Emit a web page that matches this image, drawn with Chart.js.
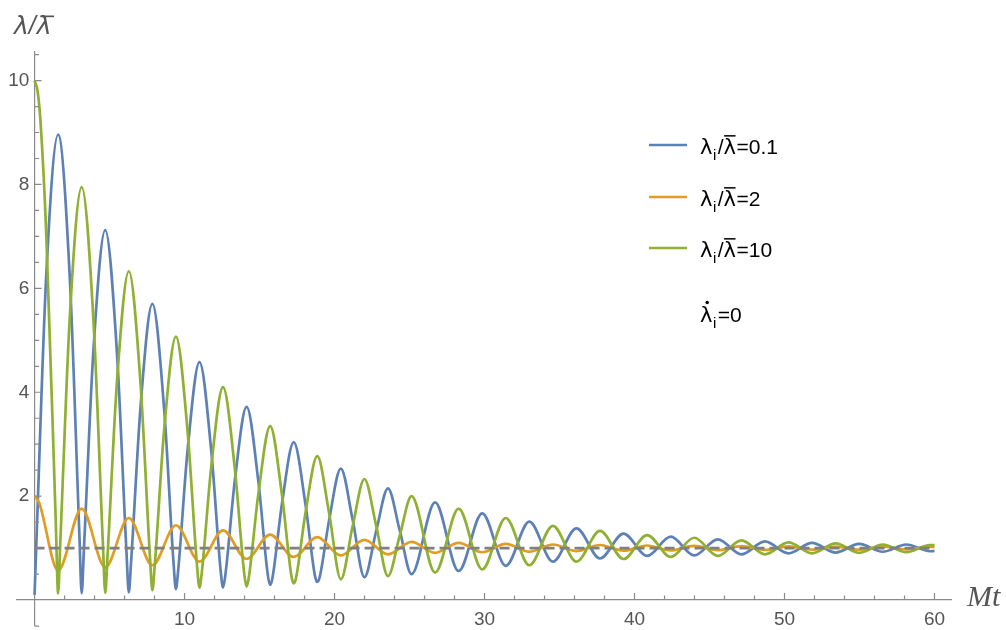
<!DOCTYPE html>
<html>
<head>
<meta charset="utf-8">
<script src="https://cdn.jsdelivr.net/npm/chart.js@4.4.1/dist/chart.umd.min.js"></script>
<style>
  html, body { margin: 0; padding: 0; background: #fff; }
  #chart { display: block; }
</style>
</head>
<body>
<canvas id="chart" width="1006" height="630"></canvas>
<script>
// values (Mt on x, lambda / lambda-bar on y)
const blueT = [0, 0.15, 0.785, 1.571, 2.356, 2.992, 3.142, 3.292, 3.927, 4.712, 5.498, 6.133, 6.283, 6.433, 7.069, 7.854,
  8.639, 9.275, 9.425, 9.575, 10.21, 10.996, 11.781, 12.416, 12.566, 12.716, 13.352, 14.137, 14.923, 15.558, 15.708,
  15.858, 16.493, 17.279, 18.064, 18.70, 18.850, 19.0, 19.635, 20.420, 21.206, 21.991, 22.777, 23.562, 24.347, 25.133,
  26.704, 28.274, 29.845, 31.416, 32.987, 34.558, 36.128, 37.699, 39.270, 40.841, 42.412, 43.982, 45.553, 47.124,
  48.695, 50.265, 51.836, 53.407, 54.978, 56.549, 58.119, 59.690, 60];
const blueV = [0.10, 1.34, 6.28, 8.96, 6.17, 1.23, 0.13, 0.98, 4.82, 7.12, 4.74, 0.90, 0.15, 0.72, 3.73, 5.70,
  3.68, 0.68, 0.21, 0.57, 2.91, 4.58, 2.87, 0.54, 0.24, 0.47, 2.30, 3.72, 2.28, 0.47, 0.29,
  0.42, 1.85, 3.04, 1.84, 0.46, 0.35, 0.43, 1.53, 2.53, 1.55, 0.44, 1.33, 2.15, 1.34, 0.50,
  1.88, 0.56, 1.67, 0.66, 1.51, 0.74, 1.38, 0.80, 1.28, 0.85, 1.22, 0.86, 1.17, 0.88,
  1.13, 0.90, 1.10, 0.915, 1.08, 0.93, 1.07, 0.94, 0.945];

const orangeT = [0, 0.3, 1.571, 3.142, 4.712, 6.283, 7.854, 9.425, 10.996, 12.566, 14.137, 15.708, 17.279, 18.850,
  20.420, 21.991, 23.562, 25.133, 26.704, 28.274, 29.845, 31.416, 32.987, 34.558, 36.128, 37.699, 39.270, 40.841,
  42.412, 43.982, 45.553, 47.124, 48.695, 50.265, 51.836, 53.407, 54.978, 56.549, 58.119, 59.690, 60];
const orangeV = [2.0, 1.88, 0.57, 1.76, 0.63, 1.58, 0.67, 1.44, 0.74, 1.34, 0.79, 1.26, 0.83, 1.21,
  0.86, 1.16, 0.88, 1.12, 0.91, 1.10, 0.92, 1.08, 0.93, 1.07, 0.94, 1.06, 0.95, 1.05,
  0.955, 1.045, 0.96, 1.04, 0.965, 1.035, 0.97, 1.03, 0.97, 1.03, 0.975, 1.025, 1.025];

const greenT = [0, 0.2, 0.4, 0.785, 1.421, 1.571, 1.721, 2.356, 3.142, 3.927, 4.562, 4.712, 4.862, 5.498, 6.283,
  7.069, 7.704, 7.854, 8.004, 8.639, 9.425, 10.21, 10.846, 10.996, 11.146, 11.781, 12.566, 13.352, 13.987, 14.137,
  14.287, 14.923, 15.708, 16.493, 17.129, 17.279, 17.429, 18.064, 18.850, 19.635, 20.420, 21.206, 21.991, 22.777,
  23.562, 24.347, 25.133, 26.704, 28.274, 29.845, 31.416, 32.987, 34.558, 36.128, 37.699, 39.270, 40.841, 42.412,
  43.982, 45.553, 47.124, 48.695, 50.265, 51.836, 53.407, 54.978, 56.549, 58.119, 59.690, 60];
const greenV = [10.0, 9.80, 9.20, 7.01, 1.44, 0.13, 1.14, 5.48, 7.95, 5.38, 1.05, 0.14, 0.83, 4.22, 6.33,
  4.15, 0.78, 0.19, 0.63, 3.27, 5.07, 3.22, 0.61, 0.24, 0.52, 2.57, 4.10, 2.53, 0.49, 0.26,
  0.44, 2.05, 3.35, 2.03, 0.46, 0.32, 0.42, 1.68, 2.77, 1.68, 0.40, 1.42, 2.33, 1.43,
  0.46, 1.24, 2.00, 0.53, 1.76, 0.59, 1.58, 0.67, 1.43, 0.74, 1.33, 0.79, 1.25, 0.83,
  1.20, 0.85, 1.15, 0.88, 1.11, 0.90, 1.09, 0.91, 1.07, 0.92, 1.06, 1.058];

// dashed reference line lambda = lambda-bar
const refT = [0, 60];
const refV = [1, 1];

const seriesRatios = ['0.1', '2', '10'];
const xTickLabels = [10, 20, 30, 40, 50, 60];
const yTickLabels = [2, 4, 6, 8, 10];

const axisColor = '#8a8a8a';
const labelColor = '#555555';
const sans = '"Liberation Sans", Arial, sans-serif';
const greek = '"DejaVu Sans", sans-serif';

function toPoints(ts, vs) {
    return ts.map((t, i) => ({ x: t, y: vs[i] }));
}

// draws  λ_i/λ̄<suffix>  starting at x on baseline y
function drawRatio(ctx, x, y, size, suffix) {
    ctx.font = `${size}px ${greek}`;
    const lw = ctx.measureText('λ').width;
    ctx.fillText('λ', x, y);
    x += lw + 0.5;
    ctx.font = `${Math.round(size * 0.7)}px ${sans}`;
    ctx.fillText('i', x, y + size * 0.28);
    x += ctx.measureText('i').width + 1.5;
    ctx.font = `${size}px ${sans}`;
    ctx.fillText('/', x, y);
    x += ctx.measureText('/').width;
    ctx.font = `${size}px ${greek}`;
    ctx.fillText('λ', x, y);
    ctx.fillRect(x + 0.5, y - size * 0.9, lw - 1, 1.5);
    x += lw + 0.5;
    ctx.font = `${size}px ${sans}`;
    ctx.fillText(suffix, x, y);
}

const decorations = {
    id: 'decorations',
    afterDraw(chart) {
        const { ctx, scales: { x, y } } = chart;
        const x0 = x.getPixelForValue(0);
        const y0 = y.getPixelForValue(0);

        ctx.save();
        // tick marks pointing into the plot, like Mathematica
        ctx.strokeStyle = axisColor;
        ctx.lineWidth = 1.2;
        ctx.beginPath();
        for (let v = 2; v <= 60; v += 2) {
            const px = x.getPixelForValue(v);
            const len = xTickLabels.includes(v) ? 7 : 4.5;
            ctx.moveTo(px, y0);
            ctx.lineTo(px, y0 - len);
        }
        for (let v = -0.5; v <= 10.5; v += 0.5) {
            if (v === 0) continue;
            const py = y.getPixelForValue(v);
            const len = yTickLabels.includes(v) ? 7 : 4.5;
            ctx.moveTo(x0, py);
            ctx.lineTo(x0 + len, py);
        }
        ctx.stroke();

        // axis titles
        ctx.fillStyle = labelColor;
        ctx.textBaseline = 'alphabetic';
        ctx.textAlign = 'left';
        ctx.font = 'italic 30px "Liberation Serif", "Times New Roman", serif';
        ctx.fillText('Mt', 967, 606);

        ctx.font = `italic 25px ${greek}`;
        ctx.fillText('λ', 14, 34);
        let tx = 14 + ctx.measureText('λ').width;
        ctx.font = `italic 25px ${sans}`;
        ctx.fillText('/', tx, 34);
        tx += ctx.measureText('/').width + 1;
        ctx.font = `italic 25px ${greek}`;
        const lw = ctx.measureText('λ').width;
        ctx.fillText('λ', tx, 34);
        ctx.fillRect(tx + 3.5, 15.5, lw - 1, 1.7);

        // legend
        const rows = [145, 197, 248];
        ctx.lineWidth = 2.7;
        chart.data.datasets.slice(0, 3).forEach((ds, i) => {
            ctx.strokeStyle = ds.borderColor;
            ctx.beginPath();
            ctx.moveTo(649, rows[i]);
            ctx.lineTo(687, rows[i]);
            ctx.stroke();
            ctx.fillStyle = '#000';
            drawRatio(ctx, 700, rows[i] + 9, 21, '=' + seriesRatios[i]);
        });

        // λ̇_i = 0
        ctx.fillStyle = '#000';
        ctx.font = `21px ${greek}`;
        ctx.fillText('λ', 700, 322);
        const lam = ctx.measureText('λ').width;
        ctx.beginPath();
        ctx.arc(700 + lam / 2 + 1, 302.5, 1.7, 0, Math.PI * 2);
        ctx.fill();
        ctx.font = `15px ${sans}`;
        ctx.fillText('i', 700 + lam + 0.5, 328);
        const iw = ctx.measureText('i').width;
        ctx.font = `21px ${sans}`;
        ctx.fillText('=0', 700 + lam + iw + 2, 322);
        ctx.restore();
    }
};

const curve = (label, ts, vs, color, order) => ({
    label,
    data: toPoints(ts, vs),
    borderColor: color,
    borderWidth: 2.7,
    pointRadius: 0,
    cubicInterpolationMode: 'monotone',
    fill: false,
    order
});

// positioned axes still push the chart area for label overflow; switch that off
const noPadding = (scale) => {
    scale.paddingTop = 0;
    scale.paddingBottom = 0;
    scale.paddingLeft = 0;
    scale.paddingRight = 0;
};

const ctx = document.getElementById('chart');
new Chart(ctx, {
    type: 'line',
    data: {
        datasets: [
            curve('0.1', blueT, blueV, '#5E81B5', 3),
            curve('2', orangeT, orangeV, '#E19C24', 2),
            curve('10', greenT, greenV, '#8FB032', 1),
            {
                label: 'mean',
                data: toPoints(refT, refV),
                borderColor: '#808080',
                borderWidth: 2.7,
                borderDash: [10, 5],
                pointRadius: 0,
                fill: false,
                order: 0
            }
        ]
    },
    options: {
        responsive: false,
        animation: false,
        devicePixelRatio: 1,
        layout: { padding: { left: 17, right: 55, top: 52, bottom: 5 } },
        plugins: {
            legend: { display: false },
            tooltip: { enabled: false }
        },
        scales: {
            x: {
                type: 'linear',
                min: -1.17,
                max: 61.1,
                position: { y: 0 },
                grid: { display: false, drawTicks: false },
                border: { color: axisColor, width: 1.2 },
                afterBuildTicks: (scale) => { scale.ticks = xTickLabels.map(v => ({ value: v })); },
                afterFit: noPadding,
                ticks: {
                    color: labelColor,
                    padding: 8,
                    maxRotation: 0,
                    font: { family: sans, size: 19 }
                }
            },
            y: {
                type: 'linear',
                min: -0.48,
                max: 10.55,
                position: { x: 0 },
                grid: { display: false, drawTicks: false },
                border: { color: axisColor, width: 1.2 },
                afterBuildTicks: (scale) => { scale.ticks = yTickLabels.map(v => ({ value: v })); },
                afterFit: noPadding,
                ticks: {
                    color: labelColor,
                    padding: 5,
                    callback: (v) => v + ' ',
                    font: { family: sans, size: 19 }
                }
            }
        }
    },
    plugins: [decorations]
});
</script>
</body>
</html>
